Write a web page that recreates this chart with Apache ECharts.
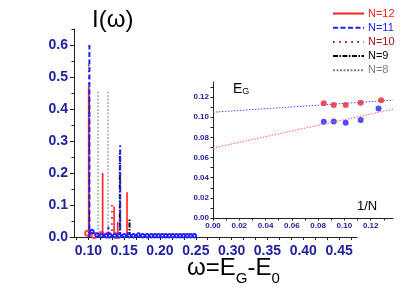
<!DOCTYPE html>
<html><head><meta charset="utf-8">
<script src="https://cdn.jsdelivr.net/npm/echarts@6/dist/echarts.min.js"></script>
<style>html,body{margin:0;padding:0;background:#fff}#c{width:415px;height:291px}</style>
</head><body><div id="c"></div>
<script>
// ---- main spectrum: spike positions (omega) and heights I(omega)
var n12Pos = [0.1005, 0.1200, 0.1360, 0.1410, 0.1540];
var n12Val = [0.470, 0.200, 0.095, 0.048, 0.140];
var n11Pos = [0.1015, 0.1280, 0.1445, 0.1550];
var n11Val = [0.600, 0.032, 0.287, 0.015];
var n10Pos = [0.1005, 0.1330];
var n10Val = [0.553, 0.106];
var n9Pos  = [0.1010, 0.1440, 0.1575];
var n9Val  = [0.440, 0.270, 0.058];
var n8Pos  = [0.1135, 0.1275];
var n8Val  = [0.455, 0.460];
// small open-circle weights near the baseline
var blueCircX = [0.1050, 0.1120, 0.1180, 0.1250, 0.1300, 0.1370, 0.1430, 0.1500, 0.1570, 0.1630, 0.1700, 0.1760, 0.1820, 0.1880, 0.1930, 0.1980, 0.2030, 0.2080, 0.2130, 0.2180, 0.2230, 0.2280, 0.2330, 0.2380, 0.2430, 0.2480];
var blueCircY = [0.017, 0.006, 0.004, 0.004, 0.004, 0.004, 0.004, 0.004, 0.004, 0.004, 0.006, 0.004, 0.004, 0.004, 0.004, 0.004, 0.004, 0.004, 0.004, 0.004, 0.004, 0.004, 0.004, 0.004, 0.004, 0.004];
var redCircX = [0.0990, 0.1080, 0.1180, 0.1280, 0.1400];
var redCircY = [0.012, 0.005, 0.008, 0.006, 0.005];
// tick labels
var mainXLabels = [0.10, 0.15, 0.20, 0.25, 0.30, 0.35, 0.40, 0.45];
var mainYLabels = [0.0, 0.1, 0.2, 0.3, 0.4, 0.5, 0.6];
var insetLabels = [0.00, 0.02, 0.04, 0.06, 0.08, 0.10, 0.12];
// ---- inset: gap E_G vs 1/N
var insetRedX = [0.0843, 0.0919, 0.1010, 0.1124, 0.1280];
var insetRedY = [0.1138, 0.1121, 0.1121, 0.1144, 0.1170];
var insetBlueX = [0.0843, 0.0919, 0.1010, 0.1124, 0.1260];
var insetBlueY = [0.0956, 0.0959, 0.0946, 0.0972, 0.1088];
var fitRedX = [0.000, 0.137];
var fitRedY = [0.0695, 0.1080];
var fitBlueX = [0.000, 0.137];
var fitBlueY = [0.1050, 0.1170];

function spikes(pos, val) {
  var d = [];
  for (var i = 0; i < pos.length; i++) {
    d.push([pos[i], 0]); d.push([pos[i], val[i]]); d.push([pos[i], '-']);
  }
  return d;
}
function zip(x, y) { return x.map(function (v, i) { return [v, y[i]]; }); }

var FONT = '"Liberation Sans", Arial, sans-serif';
var LBL = '#2222a0';

var mainXTicks = [0.08333, 0.1];
mainXLabels.forEach(function (v) { mainXTicks.push(v, v + 0.05 / 3, v + 0.1 / 3); });
var insetTicks = [];
insetLabels.forEach(function (v) { insetTicks.push(v, v + 0.01); });

var chart = echarts.init(document.getElementById('c'), null, { renderer: 'canvas' });
chart.setOption({
  animation: false,
  backgroundColor: '#fff',
  textStyle: { fontFamily: FONT },
  title: { text: 'I(ω)', left: 87, top: 3, textStyle: { fontSize: 24, fontWeight: 'normal', color: '#000', fontFamily: FONT } },
  legend: {
    orient: 'vertical', left: 332, top: 8, padding: 0, itemWidth: 31, itemHeight: 10, itemGap: 3.2,
    itemStyle: { opacity: 0 },
    textStyle: { fontSize: 11, fontFamily: FONT, padding: [0, 0, 0, -1] },
    data: [
      { name: 'N=12', textStyle: { color: '#ff2020' } },
      { name: 'N=11', textStyle: { color: '#2020ff' } },
      { name: 'N=10', textStyle: { color: '#a01818' } },
      { name: 'N=9', textStyle: { color: '#000' } },
      { name: 'N=8', textStyle: { color: '#808080' } }
    ]
  },
  grid: [
    { left: 74, right: 58, top: 29, bottom: 54 },
    { left: 213, right: 22, top: 82, bottom: 73 }
  ],
  xAxis: [
    { type: 'value', gridIndex: 0, min: 0.08, max: 0.475,
      axisLine: { lineStyle: { color: '#222', width: 1 } },
      axisTick: { length: 3, customValues: mainXTicks, lineStyle: { color: '#222' } },
      axisLabel: { customValues: mainXLabels, margin: 7, color: LBL, fontSize: 14, fontWeight: 'bold', fontFamily: FONT,
        formatter: function (v) { return v.toFixed(2); } },
      splitLine: { show: false } },
    { type: 'value', gridIndex: 1, min: 0, max: 0.137,
      axisLine: { lineStyle: { color: '#222', width: 1 } },
      axisTick: { length: 2.5, customValues: insetTicks, lineStyle: { color: '#222' } },
      axisLabel: { customValues: insetLabels, margin: 4, color: LBL, fontSize: 8, fontWeight: 'bold', fontFamily: FONT,
        formatter: function (v) { return v.toFixed(2); } },
      splitLine: { show: false } }
  ],
  yAxis: [
    { type: 'value', gridIndex: 0, min: 0, max: 0.65, interval: 0.1,
      axisLine: { show: true, lineStyle: { color: '#222', width: 1 } },
      axisTick: { show: true, length: 4, customValues: mainYLabels, lineStyle: { color: '#222' } },
      minorTick: { show: true, splitNumber: 2, length: 2.5, lineStyle: { color: '#222' } },
      axisLabel: { customValues: mainYLabels, margin: 6, color: LBL, fontSize: 14, fontWeight: 'bold', fontFamily: FONT,
        formatter: function (v) { return v.toFixed(1); } },
      splitLine: { show: false } },
    { type: 'value', gridIndex: 1, min: 0, max: 0.135,
      axisLine: { show: true, lineStyle: { color: '#222', width: 1 } },
      axisTick: { show: true, length: 2.5, customValues: insetTicks, lineStyle: { color: '#222' } },
      axisLabel: { customValues: insetLabels, margin: 4, color: LBL, fontSize: 8, fontWeight: 'bold', fontFamily: FONT,
        formatter: function (v) { return v.toFixed(2); } },
      splitLine: { show: false } }
  ],
  graphic: [
    { type: 'text', left: 187, top: 256, style: { text: 'ω=E{s|G}-E{s|0}', fill: '#000', font: '24px ' + FONT,
      rich: { s: { fontSize: 15, fontFamily: FONT, verticalAlign: 'bottom', padding: [0, 0, -6, 0] } } } },
    { type: 'text', left: 233, top: 82, style: { text: 'E{s|G}', fill: '#000', font: '14px ' + FONT,
      rich: { s: { fontSize: 9, fontFamily: FONT, padding: [0, 0, -5, 0] } } } },
    { type: 'text', left: 357, top: 200, style: { text: '1/N', fill: '#000', font: '13px ' + FONT } }
  ],
  series: [
    { name: 'N=8', type: 'line', xAxisIndex: 0, yAxisIndex: 0, data: spikes(n8Pos, n8Val), showSymbol: false, symbol: 'none',
      connectNulls: false, color: '#808080', lineStyle: { color: '#808080', width: 1, type: [2, 1.5] } },
    { name: 'N=9', type: 'line', xAxisIndex: 0, yAxisIndex: 0, data: spikes(n9Pos, n9Val), showSymbol: false, symbol: 'none',
      connectNulls: false, color: '#000', lineStyle: { color: '#000', width: 2, type: [5, 1.5, 1.5, 1.5] } },
    { name: 'N=10', type: 'line', xAxisIndex: 0, yAxisIndex: 0, data: spikes(n10Pos, n10Val), showSymbol: false, symbol: 'none',
      connectNulls: false, color: '#a01818', lineStyle: { color: '#a01818', width: 1.6, type: [1.6, 4.5] } },
    { name: 'N=12', type: 'line', xAxisIndex: 0, yAxisIndex: 0, data: spikes(n12Pos, n12Val), showSymbol: false, symbol: 'none',
      connectNulls: false, color: '#ff2020', lineStyle: { color: '#ff2020', width: 1.6, type: 'solid' } },
    { name: 'N=11', type: 'line', xAxisIndex: 0, yAxisIndex: 0, data: spikes(n11Pos, n11Val), showSymbol: false, symbol: 'none',
      connectNulls: false, color: '#2020ff', lineStyle: { color: '#2020ff', width: 2, type: [5, 2.5] } },
    { name: 'n11w', type: 'line', xAxisIndex: 0, yAxisIndex: 0, data: zip(blueCircX, blueCircY), symbol: 'emptyCircle', symbolSize: 3.5,
      itemStyle: { color: '#2020ff', borderWidth: 1 }, lineStyle: { color: '#2020ff', width: 1.3 } },
    { name: 'n12w', type: 'scatter', xAxisIndex: 0, yAxisIndex: 0, data: zip(redCircX, redCircY), symbol: 'emptyCircle', symbolSize: 5,
      itemStyle: { color: '#ff2020', borderWidth: 1.5 } },
    { name: 'fitR', type: 'line', xAxisIndex: 1, yAxisIndex: 1, data: zip(fitRedX, fitRedY), symbol: 'none',
      lineStyle: { color: '#ff6060', width: 1, type: [1.5, 1.5] } },
    { name: 'fitB', type: 'line', xAxisIndex: 1, yAxisIndex: 1, data: zip(fitBlueX, fitBlueY), symbol: 'none',
      lineStyle: { color: '#5050ff', width: 1, type: [1.5, 1.5] } },
    { name: 'gapR', type: 'scatter', xAxisIndex: 1, yAxisIndex: 1, data: zip(insetRedX, insetRedY), symbol: 'circle', symbolSize: 6,
      itemStyle: { color: '#ff2020' } },
    { name: 'gapB', type: 'scatter', xAxisIndex: 1, yAxisIndex: 1, data: zip(insetBlueX, insetBlueY), symbol: 'circle', symbolSize: 6,
      itemStyle: { color: '#2020ff' } }
  ]
});
</script></body></html>
